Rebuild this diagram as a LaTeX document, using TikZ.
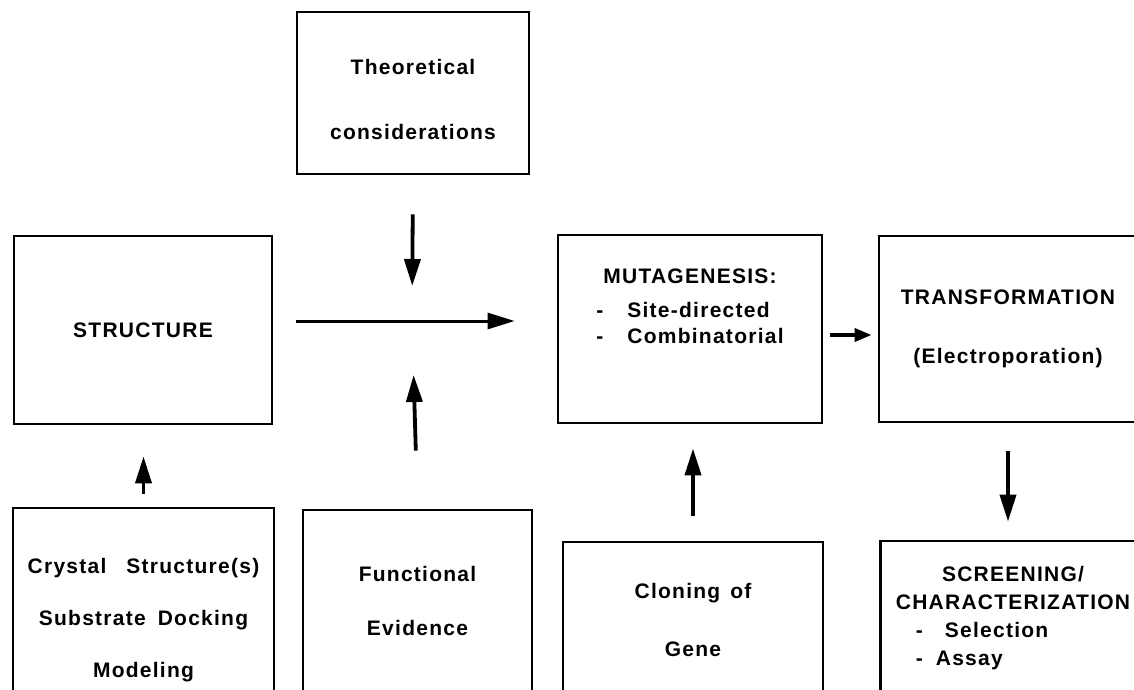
\documentclass[tikz,border=0pt]{standalone}
\usepackage{fontspec}
\setmainfont[LetterSpace=6]{Liberation Sans}
\usetikzlibrary{arrows.meta, positioning}

\tikzset{
  box/.style={draw, line width=2.8pt, inner sep=0pt},
  lbl/.style={font=\bfseries\fontsize{21}{26}\selectfont, align=center, inner sep=0pt},
  arr/.style={-{Triangle[length=27pt,width=16pt]}, line width=3.8pt},
  smallarr/.style={-{Triangle[length=17pt,width=13pt]}, line width=3.6pt},
}

\begin{document}
\begin{tikzpicture}[x=1pt,y=-1pt]
  \useasboundingbox (0,0) rectangle (1134,690);
  \clip (0,0) rectangle (1134,690);

  \node[box, minimum width=232, minimum height=162] (theo) at (413,93) {};
  \node[box, lbl, minimum width=258, minimum height=188] (struct) at (143,330)
    {STRUCTURE};
  \node[box, minimum width=264, minimum height=188] (mutag) at (690,329) {};
  \node[box, minimum width=258, minimum height=186] (transf) at (1008,329) {};
  \node[box, minimum width=261, minimum height=224] (crystal) at (143.5,620) {};
  \node[box, minimum width=229, minimum height=220] (func) at (417.5,620) {};
  \node[box, minimum width=260, minimum height=196] (clon) at (693,640) {};
  \node[box, minimum width=259, minimum height=198] (screen) at (1010,640) {};
  \coordinate (hub) at (412,321);

  \node[lbl, below=48pt of theo.north] (theotxt)
    {Theoretical\\[39pt]considerations};
  \node[lbl, below=31pt of mutag.north] (mutagtxt) {%
    \begin{tabular}{@{}l@{\hspace{24pt}}l@{}}
      \multicolumn{2}{c}{MUTAGENESIS:}\\[8pt]
      - & Site-directed\\
      - & Combinatorial
    \end{tabular}};
  \node[lbl, below=55pt of transf.north] (transftxt)
    {TRANSFORMATION\\[33pt](Electroporation)};
  \node[lbl, below=51pt of crystal.north] (crystaltxt)
    {Crystal\hspace{20pt}Structure(s)\\[26pt]Substrate\hspace{12pt}Docking\\[26pt]Modeling};
  \node[lbl, below=57pt of func.north] (functxt)
    {Functional\\[28pt]Evidence};
  \node[lbl, below=42pt of clon.north] (clontxt)
    {Cloning\hspace{10pt}of\\[32pt]Gene};
  \node[lbl, below=22pt of screen.north, xshift=3pt] (screentxt) {%
    \fontsize{21}{28}\selectfont
    \begin{tabular}{@{}l@{\hspace{13pt}}l@{}}
      \multicolumn{2}{c}{SCREENING/}\\
      \multicolumn{2}{c}{CHARACTERIZATION}\\
      \hspace{26pt}- & \hspace{9pt}Selection\\
      \hspace{26pt}- & Assay
    \end{tabular}};

  \draw[arr, shorten <=39pt, shorten >=35pt] (theo.south) -- (hub);
  \draw[arr, shorten <=58pt, shorten >=54pt] (func.north) -- (hub);
  \draw[arr, line width=3pt, shorten <=23pt, shorten >=42pt] (struct.east |- hub) -- (mutag.west |- hub);
  \draw[smallarr, shorten <=7pt, shorten >=6pt] ([yshift=-6pt]mutag.east) -- ([yshift=-6pt]transf.west);
  \draw[arr, shorten <=28pt, shorten >=18pt] (transf.south) -- (transf.south |- screen.north);
  \draw[arr, shorten <=25pt, shorten >=24pt] (clon.north) -- (clon.north |- mutag.south);
  \draw[arr, shorten <=13pt, shorten >=31pt] (crystal.north) -- (crystal.north |- struct.south);
\end{tikzpicture}
\end{document}
